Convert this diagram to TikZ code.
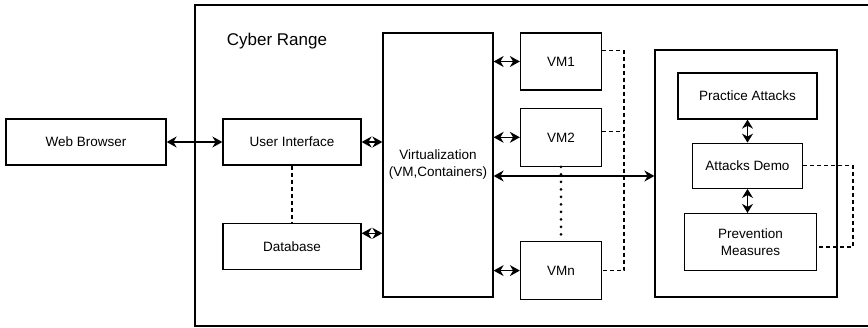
\documentclass[tikz,border=0pt]{standalone}
\usepackage{fontspec}
\setmainfont{Liberation Sans}
\usetikzlibrary{positioning, arrows.meta}

\begin{document}
\begin{tikzpicture}[x=1pt, y=-1pt, every node/.style={draw, line width=1.3pt, inner sep=0pt, align=center, font=\fontsize{13.5}{17}\selectfont}]
        \useasboundingbox (0,0) rectangle (868,328);
        \node (range) [minimum width=677pt, minimum height=321pt] at (533.5,165.5) {};
        \node[draw=none, font=\fontsize{17}{20}\selectfont] (title) at (277,41) {Cyber Range};

        \node (web) [minimum width=160pt, minimum height=46pt] at (86,142) {Web Browser};
        \node (ui) [minimum width=138pt, minimum height=46pt] at (292,142) {User Interface};
        \node (db) [below=57pt of ui, minimum width=138pt, minimum height=46pt] {Database};
        \node (virt) [minimum width=110pt, minimum height=264pt] at (438,165) {Virtualization\\(VM,Containers)};

        \node (vm1) [minimum width=81pt, minimum height=57pt] at (561,61.5) {VM1};
        \node (vm2) [below=17pt of vm1, minimum width=81pt, minimum height=58pt] {VM2};
        \node (vmn) [below=74pt of vm2, minimum width=81pt, minimum height=58pt] {VMn};

        \node (lab) [minimum width=182pt, minimum height=247pt] at (746,173.5) {};
        \node (practice) [minimum width=139pt, minimum height=46pt] at (747.5,96) {Practice Attacks};
        \node (demo) [below=23pt of practice, minimum width=110pt, minimum height=45pt] {Attacks Demo};
        \node (prev) [below=24pt of demo, xshift=3pt, minimum width=132pt, minimum height=57pt] {Prevention\\Measures};

        \coordinate (bus) at (624,0);
        \coordinate (rim) at (853,0);

        \draw[<->, >={Stealth[length=10pt, width=11pt]}, line width=1.3pt] (web) -- (ui);
        \draw[<->, >={Stealth[length=10pt, width=11pt]}, line width=1.3pt] (ui.east) -- (ui.east -| virt.west);
        \draw[<->, >={Stealth[length=10pt, width=11pt]}, line width=1.3pt] ([yshift=13pt]db.east) -- ([yshift=13pt]db.east -| virt.west);
        \draw[<->, >={Stealth[length=10pt, width=11pt]}, line width=1.3pt] (vm1.west -| virt.east) -- (vm1.west);
        \draw[<->, >={Stealth[length=10pt, width=11pt]}, line width=1.3pt] (vm2.west -| virt.east) -- (vm2.west);
        \draw[<->, >={Stealth[length=10pt, width=11pt]}, line width=1.3pt] (vmn.west -| virt.east) -- (vmn.west);
        \draw[<->, >={Stealth[length=10pt, width=11pt]}, line width=1.3pt] ([yshift=-11pt]virt.east) -- ([yshift=-11pt]virt.east -| lab.west);
        \draw[<->, >={Stealth[length=9pt, width=11pt]}, line width=1.3pt] (practice) -- (demo);
        \draw[<->, >={Stealth[length=9pt, width=11pt]}, line width=1.3pt] (demo) -- (demo |- prev.north);

        \draw[line width=1.3pt, dash pattern=on 4pt off 3pt] (ui) -- (db);
        \draw[line width=3pt, line cap=round, dash pattern=on 0pt off 7.5pt] (vm2) -- (vmn);
        \draw[line width=1.3pt, dash pattern=on 4pt off 3pt] ([yshift=11pt]vm1.east) -| (bus |- vmn) -- (vmn.east);
        \draw[line width=1.3pt, dash pattern=on 4pt off 3pt] ([yshift=6pt]vm2.east) -- ([yshift=6pt]vm2.east -| bus);
        \draw[line width=1.3pt, dash pattern=on 4pt off 3pt] (demo.east) -- (demo.east -| rim) |- ([yshift=-5pt]prev.east);
    \end{tikzpicture}
\end{document}
